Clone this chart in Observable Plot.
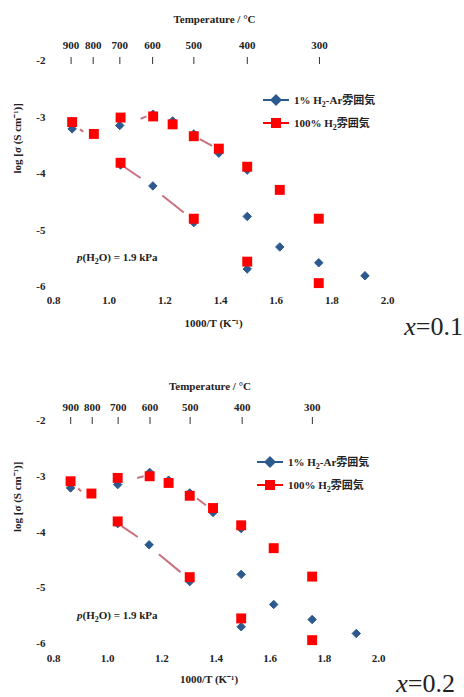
<!DOCTYPE html>
<html>
<head>
<meta charset="utf-8">
<script src="https://cdn.jsdelivr.net/npm/d3@7"></script>
<script src="https://cdn.jsdelivr.net/npm/@observablehq/plot@0.6"></script>
<style>
  html, body { margin: 0; padding: 0; background: #fff; }
  #wrap { width: 464px; }
  #wrap svg { display: block; }
</style>
</head>
<body>
<div id="wrap"></div>
<script>
// ---- tick labels ----
const tempTicks = [900, 800, 700, 600, 500, 400, 300];
const xTicks = [0.8, 1.0, 1.2, 1.4, 1.6, 1.8, 2.0];
const yTicks = [-2, -3, -4, -5, -6];
const seriesNames = ["1% H2-Ar雰囲気", "100% H2雰囲気"];

// ---- panel x = 0.1 ----
const red1X  = [0.867, 0.945, 1.041, 1.158, 1.228, 1.304, 1.394, 1.496, 1.613, 1.753, 1.041, 1.304, 1.496, 1.753];
const red1Y  = [-3.09, -3.30, -3.01, -2.99, -3.13, -3.34, -3.56, -3.88, -4.29, -4.80, -3.81, -4.80, -5.56, -5.94];
const blue1X = [0.867, 1.038, 1.158, 1.228, 1.304, 1.394, 1.496, 1.041, 1.157, 1.304, 1.496, 1.613, 1.753, 1.919, 1.496];
const blue1Y = [-3.21, -3.15, -2.95, -3.07, -3.30, -3.64, -3.94, -3.85, -4.22, -4.87, -4.76, -5.30, -5.58, -5.81, -5.69];
const seg1X1 = [0.895, 1.113, 1.326, 1.053, 1.191];
const seg1Y1 = [-3.22, -3.03, -3.39, -3.88, -4.39];
const seg1X2 = [0.907, 1.134, 1.370, 1.113, 1.268];
const seg1Y2 = [-3.26, -2.99, -3.51, -4.08, -4.69];

// ---- panel x = 0.2 ----
const red2X  = [0.863, 0.940, 1.037, 1.155, 1.225, 1.303, 1.389, 1.493, 1.613, 1.755, 1.037, 1.303, 1.493, 1.755];
const red2Y  = [-3.09, -3.31, -3.03, -3.00, -3.12, -3.35, -3.57, -3.88, -4.29, -4.80, -3.81, -4.81, -5.55, -5.94];
const blue2X = [0.863, 1.037, 1.155, 1.225, 1.303, 1.389, 1.493, 1.037, 1.153, 1.303, 1.493, 1.613, 1.755, 1.918, 1.493];
const blue2Y = [-3.21, -3.15, -2.93, -3.07, -3.30, -3.65, -3.94, -3.85, -4.23, -4.89, -4.76, -5.30, -5.57, -5.82, -5.70];
const seg2X1 = [0.891, 1.109, 1.330, 1.053, 1.189];
const seg2Y1 = [-3.22, -3.03, -3.40, -3.90, -4.40];
const seg2X2 = [0.902, 1.133, 1.363, 1.111, 1.269];
const seg2Y2 = [-3.27, -3.00, -3.52, -4.09, -4.72];

const BLUE = "#2d5a8e", RED = "#ff0000", PINK = "#c9717f";
const FONT = "'Liberation Serif', 'Times New Roman', 'Noto Sans CJK JP', serif";

function zip(xs, ys) { return xs.map((x, i) => ({x, y: ys[i]})); }
function segs(x1, y1, x2, y2) { return x1.map((v, i) => ({x1: v, y1: y1[i], x2: x2[i], y2: y2[i]})); }

function panel(cfg) {
  const svg = Plot.plot({
    width: 464, height: cfg.height,
    marginTop: cfg.mt, marginBottom: cfg.mb, marginLeft: 53, marginRight: cfg.mr,
    x: {domain: [0.8, 2.0]},
    y: {domain: [-6, -2]},
    style: {fontFamily: FONT, fontSize: "11px", fontWeight: "bold", color: "#222", background: "#fff", overflow: "visible"},
    marks: [
      Plot.axisY({ticks: yTicks, tickSize: 0, tickPadding: 8, tickFormat: d => String(d), label: null}),
      Plot.axisX({ticks: xTicks, tickSize: 0, tickPadding: cfg.xpad, tickFormat: d => d.toFixed(1), label: null}),
      Plot.axisX({anchor: "top", ticks: tempTicks.map(t => 1000 / (t + 273.15)),
                  tickFormat: v => String(Math.round(1000 / v - 273.15)),
                  tickSize: 7, dy: 3, dx: 3, tickPadding: cfg.tpad, label: null, stroke: "#333"}),
      Plot.text(["Temperature / °C"], {frameAnchor: "top", dx: -6, dy: cfg.titleDy, fontSize: 11, fontWeight: "bold"}),
      Plot.text(["1000/T (K⁻¹)"], {frameAnchor: "bottom", dx: -7, dy: cfg.xlabDy, fontSize: 11, fontWeight: "bold"}),
      Plot.text(["log [σ (S cm⁻¹)]"], {frameAnchor: "left", dx: -36, rotate: -90, fontSize: 11, fontWeight: "bold"}),
      Plot.link(segs(...cfg.seg), {x1: "x1", y1: "y1", x2: "x2", y2: "y2", stroke: PINK, strokeWidth: 2}),
      Plot.dot(zip(cfg.bx, cfg.by), {x: "x", y: "y", symbol: "diamond2", r: 3.8, fill: BLUE, stroke: BLUE, strokeWidth: 1, strokeLinejoin: "round"}),
      Plot.dot(zip(cfg.rx, cfg.ry), {x: "x", y: "y", symbol: "square", r: 5.6, fill: RED})
    ]
  });
  const s = d3.select(svg);
  // annotation p(H2O)
  const ann = s.append("text").attr("x", cfg.annX).attr("y", cfg.annY).attr("text-anchor", "start")
    .style("font-family", FONT).style("font-size", "11px").style("font-weight", "bold").attr("fill", "#222");
  ann.append("tspan").style("font-style", "italic").text("p");
  ann.append("tspan").text("(H");
  ann.append("tspan").attr("dy", 3).style("font-size", "8px").text("2");
  ann.append("tspan").attr("dy", -3).text("O) = 1.9 kPa");
  // legend
  const lg = s.append("g").attr("text-anchor", "start")
    .style("font-family", FONT).style("font-size", "11px").style("font-weight", "bold");
  const rows = [{c: BLUE, y: cfg.legY[0], sym: "d"}, {c: RED, y: cfg.legY[1], sym: "s"}];
  rows.forEach((r, i) => {
    lg.append("line").attr("x1", cfg.legX).attr("x2", cfg.legX + 26).attr("y1", r.y).attr("y2", r.y)
      .attr("stroke", r.c).attr("stroke-width", 2);
    const cx = cfg.legX + 13;
    if (r.sym === "d") {
      lg.append("path").attr("d", `M${cx},${r.y - 6}L${cx + 6},${r.y}L${cx},${r.y + 6}L${cx - 6},${r.y}Z`).attr("fill", r.c);
    } else {
      lg.append("rect").attr("x", cx - 5).attr("y", r.y - 5).attr("width", 10).attr("height", 10).attr("fill", r.c);
    }
    const t = lg.append("text").attr("x", cfg.legX + 31).attr("y", r.y).attr("dy", "0.35em").attr("fill", "#222");
    const name = seriesNames[i];
    const k = name.indexOf("H2");
    t.append("tspan").text(name.slice(0, k + 1));
    t.append("tspan").attr("dy", 3).style("font-size", "8px").text("2");
    t.append("tspan").attr("dy", -3).text(name.slice(k + 2));
  });
  // composition label
  const xl = s.append("text").attr("x", cfg.compX).attr("y", cfg.compY).attr("text-anchor", "end")
    .style("font-family", FONT).style("font-size", "26px").style("font-weight", "normal").attr("fill", "#222");
  xl.append("tspan").style("font-style", "italic").text("x");
  xl.append("tspan").text(cfg.comp);
  return svg;
}

const wrap = document.getElementById("wrap");
wrap.appendChild(panel({
  height: 348, mt: 60, mb: 62, mr: 77, xpad: 10, tpad: 8, titleDy: -45, xlabDy: 40,
  rx: red1X, ry: red1Y, bx: blue1X, by: blue1Y, seg: [seg1X1, seg1Y1, seg1X2, seg1Y2],
  annX: 77, annY: 261, legX: 263, legY: [100, 123], compX: 463, compY: 335, comp: "=0.1"
}));
wrap.appendChild(panel({
  height: 349, mt: 72, mb: 54, mr: 86, xpad: 11, tpad: 6, titleDy: -38, xlabDy: 39,
  rx: red2X, ry: red2Y, bx: blue2X, by: blue2Y, seg: [seg2X1, seg2Y1, seg2X2, seg2Y2],
  annX: 77, annY: 271, legX: 257, legY: [114, 137], compX: 455, compY: 344, comp: "=0.2"
}));
</script>
</body>
</html>
